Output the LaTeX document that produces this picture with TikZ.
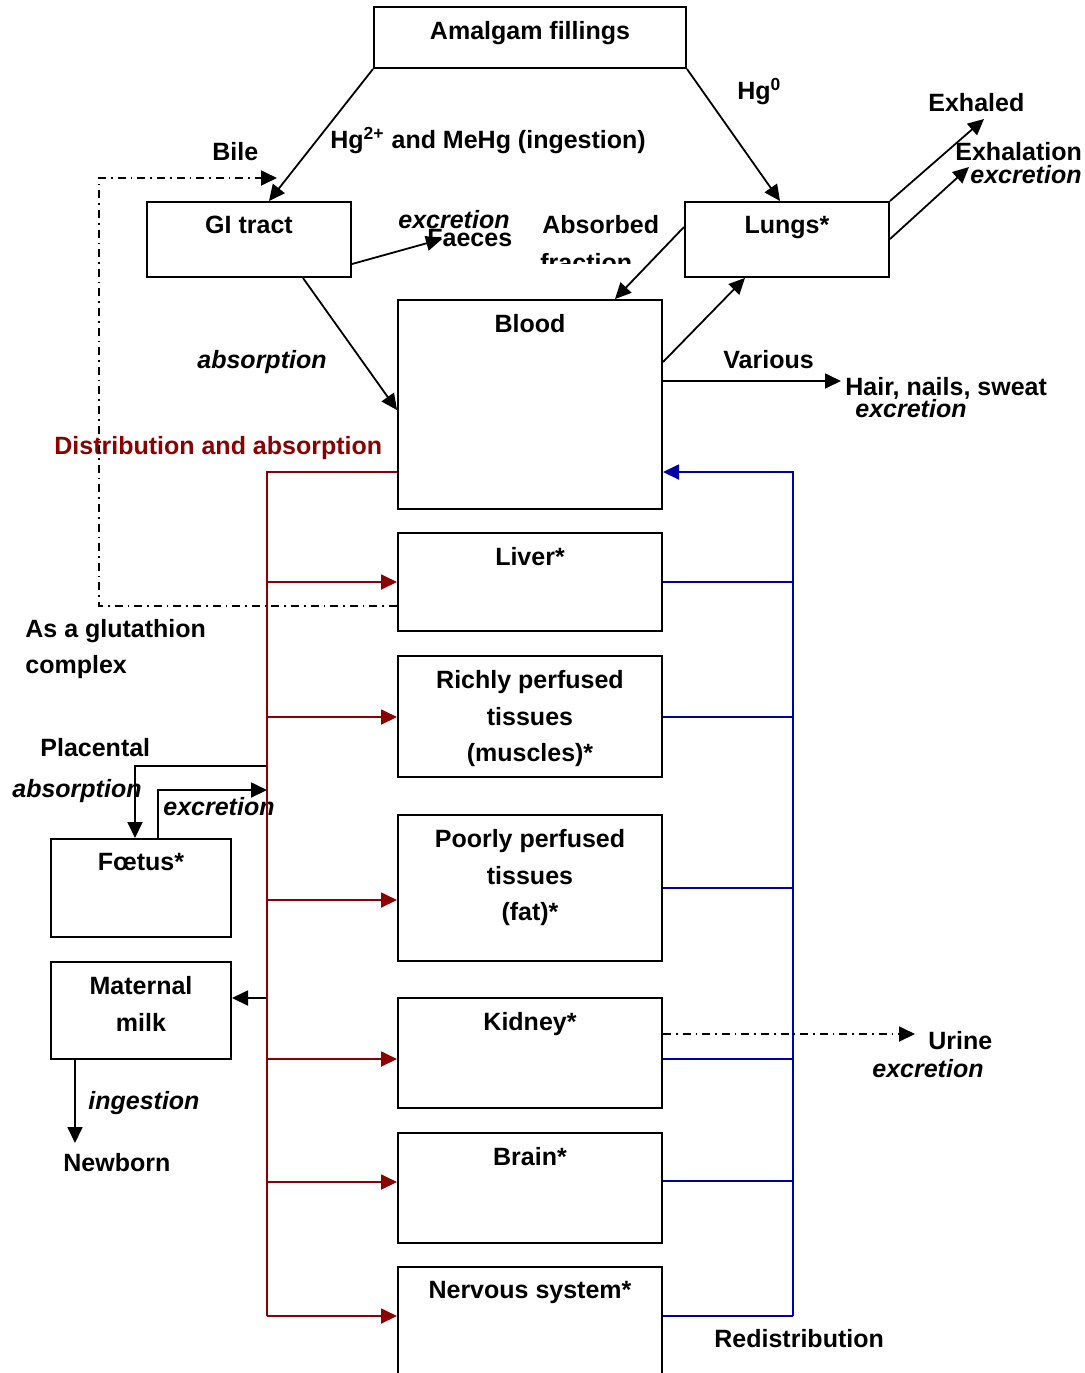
\documentclass[tikz,border=0pt]{standalone}
\usepackage{fontspec}
\setmainfont{Liberation Sans}
\usetikzlibrary{arrows.meta,fit}
\definecolor{distred}{HTML}{8B0000}
\definecolor{redisblue}{HTML}{0000A8}
\tikzset{%
    Dboxtext/.style={font=\bfseries, align=center, inner sep=0pt},
    Dbox/.style={draw, line width=1pt, inner sep=0pt, label={[Dboxtext, anchor=north, yshift=-7.5pt]north:{#1}}},
    Dtext/.style={font=\bfseries, anchor=base west, inner sep=0pt},
    Dit/.style={font=\bfseries\itshape, anchor=base west, inner sep=0pt},
    Dtip/.style={-{Triangle[length=8pt,width=7.5pt]}},
    Dline/.style={line width=0.9pt, line join=miter},
    Dred/.style={Dline, draw=distred, {Triangle[length=8pt,width=7.5pt]}-{}},
    Dblue/.style={Dline, draw=redisblue},
    Ddashdot/.style={Dline, dash pattern=on 4pt off 2.5pt on 0.8pt off 2.5pt}
}
\begin{document}
\fontsize{12.5}{18.25}\selectfont
\begin{tikzpicture}[x=0.5pt,y=-0.5pt]
    \clip (0,0) rectangle (1085,1373);
    % boxes
    \node (Namal)  [Dbox={Amalgam fillings}, fit={(374,7) (686,68)}] {};
    \node (Ngi)    [Dbox={GI tract}, fit={(147,202) (351,277)}] {};
    \node (Nlung)  [Dbox={Lungs*}, fit={(685,202) (889,277)}] {};
    \node (Nblood) [Dbox={Blood}, fit={(398,300) (662,509)}] {};
    \node (Nliver) [Dbox={Liver*}, fit={(398,533) (662,631)}] {};
    \node (Nrich)  [Dbox={Richly perfused\\tissues\\(muscles)*}, fit={(398,656) (662,777)}] {};
    \node (Npoor)  [Dbox={Poorly perfused\\tissues\\(fat)*}, fit={(398,815) (662,961)}] {};
    \node (Nkid)   [Dbox={Kidney*}, fit={(398,998) (662,1108)}] {};
    \node (Nbrain) [Dbox={Brain*}, fit={(398,1133) (662,1243)}] {};
    \node (Nnerv)  [Dbox={Nervous system*}, fit={(398,1267) (662,1400)}] {};
    \node (Nfoet)  [Dbox={Fœtus*}, fit={(51,839) (231,937)}] {};
    \node (Nmilk)  [Dbox={Maternal\\milk}, fit={(51,962) (231,1059)}] {};

    % free labels
    \node[Dtext] (Tingest) at (330,148) {Hg\textsuperscript{2+} and MeHg (ingestion)};
    \node[Dtext] (Thg) at (737,99) {Hg\textsuperscript{0}};
    \node[Dtext] (Tbile) at (212,160) {Bile};
    \node[Dit] (Texcf) at (398,228) {excretion};
    \node[Dtext] (Tfaeces) at (427,246) {Faeces};
    \node[Dtext] (Tabsd) at (542,233) {Absorbed};
    \begin{scope}
        \clip (530,240) rectangle (700,263);
        \node[Dtext] (Tfrac) at (540,271) {fraction};
    \end{scope}
    \node[Dit] (Tabsgi) at (197,368) {absorption};
    \node[Dtext, text=distred] (Tdist) at (54,454) {Distribution and absorption};
    \node[Dtext] (Tvar) at (723,368) {Various};
    \node[Dtext] (Thair) at (845,395) {Hair, nails, sweat};
    \node[Dit] (Texch) at (855,417) {excretion};
    \node[Dtext] (Texhd) at (928,111) {Exhaled};
    \node[Dtext] (Texhn) at (955,160) {Exhalation};
    \node[Dit] (Texce) at (970,183) {excretion};
    \node[Dtext] (Tglut) at (25,637) {As a glutathion};
    \node[Dtext] (Tcompl) at (25,673) {complex};
    \node[Dtext] (Tplac) at (40,756) {Placental};
    \node[Dit] (Tabspl) at (12,797) {absorption};
    \node[Dit] (Texcfo) at (163,815) {excretion};
    \node[Dit] (Tingmilk) at (88,1109) {ingestion};
    \node[Dtext] (Tnewb) at (63,1171) {Newborn};
    \node[Dtext] (Turine) at (928,1049) {Urine};
    \node[Dit] (Texcu) at (872,1077) {excretion};
    \node[Dtext] (Tredis) at (714,1347) {Redistribution};

    % free ends
    \path
        (442,239) coordinate (Cfaeces)
        (984,119) coordinate (Cexhd)
        (969,167) coordinate (Cexhn)
        (841,381) coordinate (Chair)
        (915,1034) coordinate (Curine)
        (75,1143) coordinate (Cnewb)
        (277,178) coordinate (Cbile)
        (267,472) coordinate (Cred)
        (793,472) coordinate (Cblue);

    % black connectors
    \draw[Dline, Dtip] (Namal.south west) -- (Ngi.north -| 269,0);
    \draw[Dline, Dtip] (Namal.south east) -- (Nlung.north -| 780,0);
    \draw[Dline, Dtip] (Ngi.east |- 0,264) -- (Cfaeces);
    \draw[Dline, Dtip] (Ngi.south -| 303,0) -- (Nblood.west |- 0,410);
    \draw[Dline, Dtip] (Nlung.west |- 0,227) -- (Nblood.north -| 615,0);
    \draw[Dline, Dtip] (Nblood.east |- 0,362) -- (Nlung.south -| 745,0);
    \draw[Dline, Dtip] (Nlung.north east) -- (Cexhd);
    \draw[Dline, Dtip] (Nlung.east |- 0,239) -- (Cexhn);
    \draw[Dline, Dtip] (Nblood.east |- 0,381) -- (Chair);
    \draw[Ddashdot, Dtip] (Nliver.west |- 0,606) -- (99,606) -- (99,178) -- (Cbile);
    \draw[Ddashdot, Dtip] (Nkid.east |- 0,1034) -- (Curine);
    \draw[Dline, Dtip] (Cred |- 0,766) -- (135,766) -- (Nfoet.north -| 135,0);
    \draw[Dline, Dtip] (Nfoet.north -| 158,0) -- (158,790) -- (Cred |- 0,790);
    \draw[Dline, Dtip] (Cred |- 0,998) -- (Nmilk.east |- 0,998);
    \draw[Dline, Dtip] (Nmilk.south -| 75,0) -- (Cnewb);

    % distribution
    \draw[Dline, draw=distred] (Nblood.west |- Cred) -- (Cred) -- (Cred |- 0,1316);
    \foreach \n/\y in {Nliver/582, Nrich/717, Npoor/900, Nkid/1059, Nbrain/1182, Nnerv/1316}
        \draw[Dred] (\n.west |- 0,\y) -- (Cred |- 0,\y);

    % redistribution
    \draw[Dblue, Dtip] (Cblue |- 0,1316) -- (Cblue) -- (Nblood.east |- Cblue);
    \foreach \n/\y in {Nliver/582, Nrich/717, Npoor/888, Nkid/1059, Nbrain/1181, Nnerv/1316}
        \draw[Dblue] (\n.east |- 0,\y) -- (Cblue |- 0,\y);
\end{tikzpicture}
\end{document}
